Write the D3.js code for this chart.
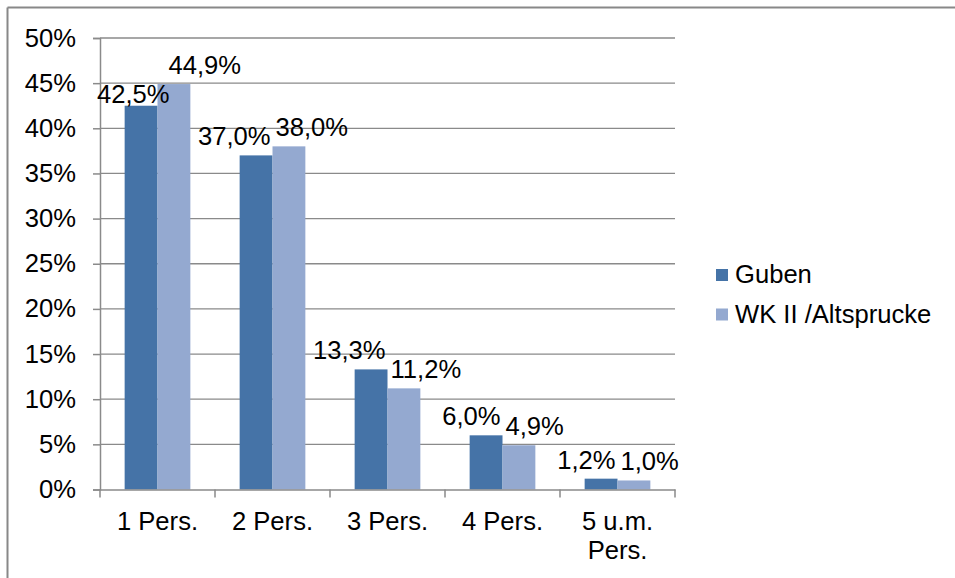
<!DOCTYPE html>
<html><head><meta charset="utf-8">
<script src="https://cdn.jsdelivr.net/npm/d3@7/dist/d3.min.js"></script>
<style>
html,body{margin:0;padding:0;background:#fff;}
svg{display:block;font-family:"Liberation Sans",Arial,sans-serif;}
</style></head>
<body><svg id="c" width="955" height="578"></svg>
<script>
const categories = [["1 Pers."], ["2 Pers."], ["3 Pers."], ["4 Pers."], ["5 u.m.", "Pers."]];
const seriesNames = ["Guben", "WK II /Altsprucke"];
const guben = [42.5, 37.0, 13.3, 6.0, 1.2];
const wk2 = [44.9, 38.0, 11.2, 4.9, 1.0];
const yTicks = [0, 5, 10, 15, 20, 25, 30, 35, 40, 45, 50];

const colors = ["#4573A7", "#94A9D0"];
const FS = 25.6, SX = 1.0;
const fmt = v => v.toFixed(1).replace(".", ",") + "%";

const svg = d3.select("#c");
// outer border
svg.append("line").attr("x1", 7.5).attr("x2", 7.5).attr("y1", 7.5).attr("y2", 578).attr("stroke", "#888").attr("stroke-width", 2);
svg.append("line").attr("x1", 7.5).attr("x2", 955).attr("y1", 7.5).attr("y2", 7.5).attr("stroke", "#888").attr("stroke-width", 2);

const L = 100, R = 675, T = 38, B = 489.5;
const x0 = d3.scaleBand().domain(d3.range(categories.length)).range([L, R]).padding(0);
const bw = x0.bandwidth() / 3.5;
const x1 = d3.scaleBand().domain([0, 1]).range([0.75 * bw, 2.75 * bw]).padding(0);
const y = d3.scaleLinear().domain([0, 50]).range([B, T]);

function stext(g, x, yy, txt, anchor) {
  return g.append("text").attr("transform", `translate(${x},${yy}) scale(${SX},1)`)
    .attr("text-anchor", anchor).attr("font-size", FS).attr("fill", "#000").text(txt);
}

// gridlines
const grid = svg.append("g");
yTicks.forEach(t => {
  if (t === 0) return;
  grid.append("line").attr("x1", L).attr("x2", R).attr("y1", y(t)).attr("y2", y(t))
    .attr("stroke", "#8a8a8a").attr("stroke-width", 1.3);
});

// bars
const data = [guben, wk2];
const bars = svg.append("g");
data.forEach((arr, s) => {
  bars.selectAll(null).data(arr).enter().append("rect")
    .attr("x", (d, i) => x0(i) + x1(s))
    .attr("width", x1.bandwidth())
    .attr("y", d => y(d))
    .attr("height", d => B - y(d))
    .attr("fill", colors[s]);
});

// axes
const yAxis = svg.append("g").attr("transform", `translate(${L},0)`)
  .call(d3.axisLeft(y).tickValues(yTicks).tickSize(7).tickFormat(""));
const xAxis = svg.append("g").attr("transform", `translate(0,${B})`)
  .call(d3.axisBottom(x0).tickSize(0).tickFormat(""));
[yAxis, xAxis].forEach(a => {
  a.select(".domain").attr("stroke", "#8a8a8a").attr("stroke-width", 1.5);
  a.selectAll(".tick line").attr("stroke", "#8a8a8a").attr("stroke-width", 1.5);
});
// category boundary ticks
d3.range(categories.length + 1).forEach(i => {
  const xx = L + i * x0.bandwidth();
  svg.append("line").attr("x1", xx).attr("x2", xx).attr("y1", B).attr("y2", B + 8)
    .attr("stroke", "#8a8a8a").attr("stroke-width", 1.5);
});

// y labels
const lab = svg.append("g");
yTicks.forEach(t => stext(lab, 76, y(t) + 8.5, t + "%", "end"));
// x labels
categories.forEach((lines, i) => {
  lines.forEach((ln, k) => stext(lab, x0(i) + x0.bandwidth() / 2, 530 + k * 29, ln, "middle"));
});

// data labels
categories.forEach((c, i) => {
  const gc = x0(i) + x0.bandwidth() / 2;
  const gy = y(guben[i]) - 10, wy = y(wk2[i]) - 10;
  const shift = (i === 0) ? 7 : 0;
  stext(lab, gc - 2 + (i === 0 ? 14 : 0), gy + shift, fmt(guben[i]), "end");
  stext(lab, gc + 3 + (i === 0 ? 8 : 0), wy, fmt(wk2[i]), "start");
});

// legend
seriesNames.forEach((n, s) => {
  const ly = 275 + s * 39.5;
  svg.append("rect").attr("x", 716).attr("y", ly - 6).attr("width", 12).attr("height", 12).attr("fill", colors[s]);
  stext(lab, 735, ly + 8, n, "start");
});
</script></body></html>
